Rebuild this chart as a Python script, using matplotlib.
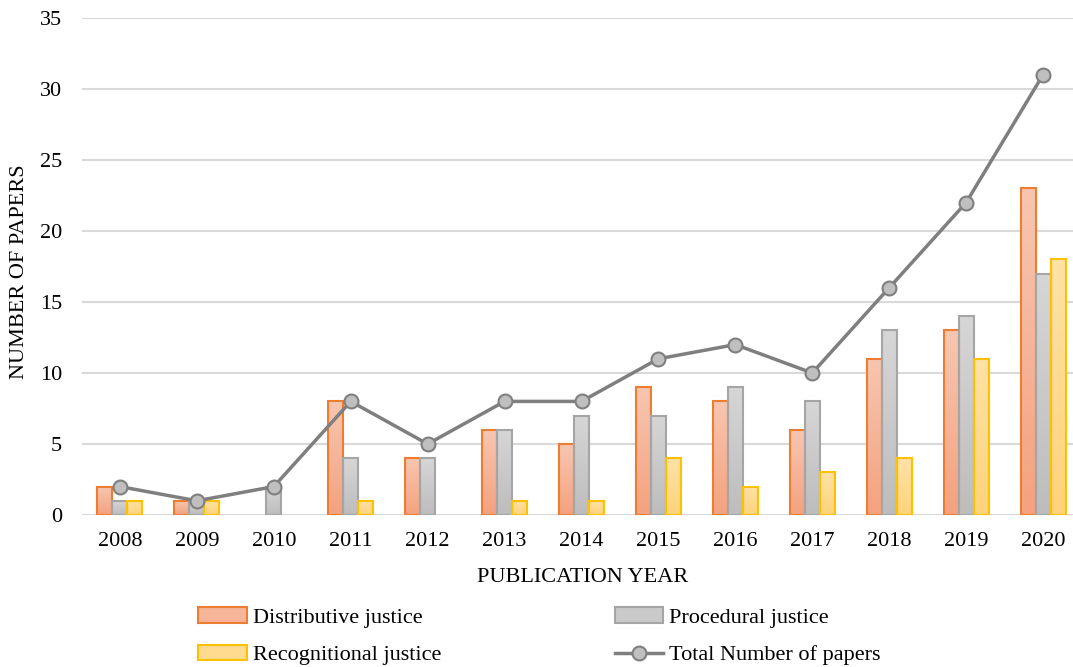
import numpy as np
import matplotlib
matplotlib.use("Agg")
import matplotlib.pyplot as plt
from matplotlib.colors import LinearSegmentedColormap
from matplotlib.patches import Patch
from matplotlib.lines import Line2D

years = ["2008", "2009", "2010", "2011", "2012", "2013", "2014",
         "2015", "2016", "2017", "2018", "2019", "2020"]
distributive = [2, 1, 0, 8, 4, 6, 5, 9, 8, 6, 11, 13, 23]
procedural = [1, 1, 2, 4, 4, 6, 7, 7, 9, 8, 13, 14, 17]
recognitional = [1, 1, 0, 1, 0, 1, 1, 4, 2, 3, 4, 11, 18]
total = [2, 1, 2, 8, 5, 8, 8, 11, 12, 10, 16, 22, 31]

plt.rcParams["font.family"] = ["Liberation Serif", "DejaVu Serif"]
FS = 16

fig = plt.figure(figsize=(10.73, 6.67), dpi=100)
W, H = 1073, 667
left, right = 81.5 / W, 1081.5 / W
bottom, top = 1 - 515 / H, 1 - 18 / H
ax = fig.add_axes([left, bottom, right - left, top - bottom])

x = np.arange(len(years))
bw = 0.195

series = [
    (distributive, -bw, "#f7c6b1", "#f4a27f", "#ed7d31", "Distributive justice"),
    (procedural, 0.0, "#d6d6d6", "#bdbdbd", "#a5a5a5", "Procedural justice"),
    (recognitional, bw, "#ffe2a6", "#ffd37a", "#ffc000", "Recognitional justice"),
]

handles = []
for vals, off, ctop, cbot, edge, label in series:
    cmap = LinearSegmentedColormap.from_list(label, [cbot, ctop])
    grad = np.linspace(1, 0, 64).reshape(-1, 1)
    bars = ax.bar(x + off, vals, width=bw, facecolor="none", edgecolor=edge,
                  linewidth=1.5, zorder=3)
    for b in bars:
        h = b.get_height()
        if h <= 0:
            b.set_visible(False)
            continue
        x0 = b.get_x()
        ax.imshow(grad, cmap=cmap, vmin=0, vmax=1, aspect="auto",
                  extent=[x0, x0 + bw, 0, h], origin="upper", zorder=2,
                  interpolation="bilinear")
    handles.append(Patch(facecolor=cmap(0.5), edgecolor=edge, linewidth=1.5,
                         label=label))

ax.plot(x, total, color="#7f7f7f", linewidth=2.5, marker="o", markersize=10,
        markerfacecolor="#bfbfbf", markeredgecolor="#7f7f7f",
        markeredgewidth=1.5, zorder=5)
handles.append(Line2D([], [], color="#7f7f7f", linewidth=2.5, marker="o",
                      markersize=10, markerfacecolor="#bfbfbf",
                      markeredgecolor="#7f7f7f", markeredgewidth=1.5,
                      label="Total Number of papers"))

ax.set_xlim(-0.5, len(years) - 0.5)
ax.set_ylim(0, 35)
ax.set_yticks(range(0, 36, 5))
ax.set_xticks(x)
ax.set_xticklabels(years)
ax.yaxis.grid(True, color="#d9d9d9", linewidth=1.5, zorder=0)
ax.set_axisbelow(True)
for s in ax.spines.values():
    s.set_visible(False)
ax.tick_params(axis="both", length=0, labelsize=FS, colors="black")
ax.tick_params(axis="y", pad=14)
ax.tick_params(axis="x", pad=12)

fig.text(583 / W, 1 - 578 / H, "PUBLICATION YEAR", ha="center", va="center",
         fontsize=FS)
fig.text(19.5 / W, 1 - 272 / H, "NUMBER OF PAPERS", ha="center", va="center",
         rotation=90, fontsize=FS)

# two-column legend: left column bars, right column procedural + total
order = [handles[0], handles[2], handles[1], handles[3]]
fig.legend(handles=order, labels=[h.get_label() for h in order], ncol=2,
           loc="upper left", bbox_to_anchor=(198 / W, 1 - 607 / H),
           frameon=False, fontsize=FS, borderpad=0, borderaxespad=0,
           handlelength=2.2, handletextpad=0.27, labelspacing=0.78,
           columnspacing=7.8)

fig.savefig("out.png", dpi=100)
